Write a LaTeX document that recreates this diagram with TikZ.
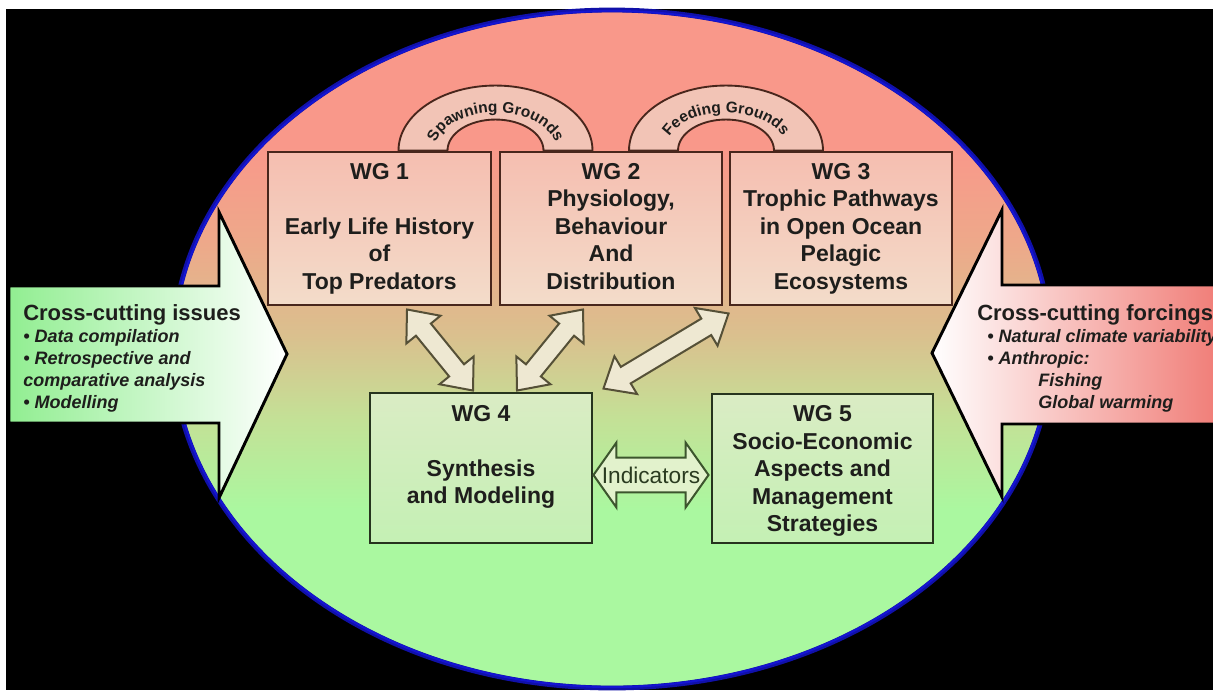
\documentclass[tikz,border=0pt]{standalone}
\usepackage{fontspec}
\setmainfont{Liberation Sans}
\usetikzlibrary{calc,decorations.text}

\definecolor{salmon}{RGB}{249,152,138}
\definecolor{salmonmid}{RGB}{238,168,138}
\definecolor{tanmid}{RGB}{218,192,142}
\definecolor{olivegreen}{RGB}{196,224,150}
\definecolor{mint}{RGB}{170,248,160}
\definecolor{rimblue}{RGB}{20,20,210}
\definecolor{browndark}{RGB}{72,38,28}
\definecolor{pinktop}{RGB}{245,190,176}
\definecolor{pinkbot}{RGB}{243,220,202}
\definecolor{greendark}{RGB}{38,52,30}
\definecolor{greentop}{RGB}{218,236,196}
\definecolor{greenbot}{RGB}{196,240,180}
\definecolor{archfill}{RGB}{242,196,182}
\definecolor{beige}{RGB}{238,232,210}
\definecolor{beigeline}{RGB}{85,80,55}
\definecolor{indfill}{RGB}{226,242,204}
\definecolor{indline}{RGB}{60,85,45}
\definecolor{leftgreen}{RGB}{145,238,145}
\definecolor{rightred}{RGB}{240,122,116}
\definecolor{inkdark}{RGB}{30,30,28}

% vertical fill of the big oval: salmon on top, tan in the middle, mint below
\pgfdeclareverticalshading{ovalfill}{100bp}{%
  color(0bp)=(mint); color(38bp)=(mint); color(45bp)=(olivegreen);
  color(51bp)=(tanmid); color(58bp)=(salmonmid); color(65bp)=(salmon);
  color(100bp)=(salmon)}

% heading font of the side arrows
\newcommand\sidehead{\fontsize{16.5pt}{16.5pt}\selectfont\bfseries\upshape}

% block double arrow between two points: style, from, to, shaft half width, head half width, head length
\newcommand\blockdbl[6]{%
  \filldraw[#1] let \p1=(#2), \p2=(#3), \n1={atan2(\y2-\y1,\x2-\x1)} in
    (\p1) -- ($(\p1)+(\n1:#6)+({\n1+90}:#5)$) -- ($(\p1)+(\n1:#6)+({\n1+90}:#4)$)
    -- ($(\p2)+(\n1:-#6)+({\n1+90}:#4)$) -- ($(\p2)+(\n1:-#6)+({\n1+90}:#5)$) -- (\p2)
    -- ($(\p2)+(\n1:-#6)+({\n1-90}:#5)$) -- ($(\p2)+(\n1:-#6)+({\n1-90}:#4)$)
    -- ($(\p1)+(\n1:#6)+({\n1-90}:#4)$) -- ($(\p1)+(\n1:#6)+({\n1-90}:#5)$) -- cycle;}

\begin{document}
\begin{tikzpicture}[x=0.75pt,y=0.75pt,
  wgupper/.style={draw=browndark, line width=2.2pt, top color=pinktop, bottom color=pinkbot,
    minimum width=166.5pt, minimum height=114.75pt, inner sep=0pt},
  wglower/.style={draw=greendark, line width=2.2pt, top color=greentop, bottom color=greenbot,
    minimum width=166.5pt, minimum height=112.5pt, inner sep=0pt},
  wgtext/.style={align=center, inner sep=0pt, text=inkdark,
    font=\fontsize{17.25pt}{20.6pt}\selectfont\bfseries},
  archring/.style={draw=browndark, line width=1.4pt, fill=archfill},
  linkarrow/.style={draw=beigeline, line width=1.5pt, fill=beige, line join=miter},
  indarrow/.style={draw=indline, line width=1.5pt, fill=indfill, line join=miter},
  bigarrow/.style={draw=black, line width=2.2pt, line join=miter},
  sidetext/.style={align=left, inner sep=0pt, text=inkdark,
    font=\fontsize{13.5pt}{16.5pt}\selectfont\bfseries\itshape}]

\useasboundingbox (0,0) rectangle (1213,-690);
\fill[white] (0,0) rectangle (1213,-690);
\fill[black] (6,-9) rectangle (1213,-690);

% the oval
\path[shading=ovalfill] (612,-349) ellipse [x radius=439, y radius=339];
\draw[rimblue!80!black, line width=3.6pt] (612,-349) ellipse [x radius=439, y radius=339];
\draw[rimblue, line width=1.6pt] (612,-349) ellipse [x radius=438, y radius=338];

% side arrows
\filldraw[bigarrow, left color=leftgreen, right color=white]
  (9,-286) -- (219,-286) -- (219,-212) -- (287,-354) -- (219,-498) -- (219,-423) -- (9,-423) -- cycle;
\filldraw[bigarrow, left color=white, right color=rightred]
  (1225,-285) -- (1002,-285) -- (1002,-210) -- (932,-353) -- (1002,-497) -- (1002,-424) -- (1225,-424) -- cycle;

\node[sidetext, anchor=north west] (issues) at (23,-304)
  {{\sidehead Cross-cutting issues}\\
   \textbullet\ Data compilation\\
   \textbullet\ Retrospective and\\
   comparative analysis\\
   \textbullet\ Modelling};
\node[sidetext, anchor=north west] (forcings) at (977,-304)
  {{\sidehead Cross-cutting forcings}\\
   \hspace*{7.5pt}\textbullet\ Natural climate variability\\
   \hspace*{7.5pt}\textbullet\ Anthropic:\\
   \hspace*{45.75pt}Fishing\\
   \hspace*{45.75pt}Global warming};

% working group boxes
\node[wgupper, minimum width=167.25pt] (wg1) at (379.5,-228.5) {};
\node[wgupper] (wg2) at (611,-228.5) {};
\node[wgupper] (wg3) at (841,-228.5) {};
\node[wglower] (wg4) at (481,-468) {};
\node[wglower, minimum width=165.75pt, minimum height=111.75pt] (wg5) at (822.5,-468.5) {};

\node[wgtext, anchor=north] (t1) at ($(wg1.north)+(0,-12.5)$)
  {WG 1\\[20.6pt]Early Life History\\of\\Top Predators};
\node[wgtext, anchor=north] (t2) at ($(wg2.north)+(0,-12.5)$)
  {WG 2\\Physiology,\\Behaviour\\And\\Distribution};
\node[wgtext, anchor=north] (t3) at ($(wg3.north)+(0,-12.5)$)
  {WG 3\\Trophic Pathways\\in Open Ocean\\Pelagic\\Ecosystems};
\node[wgtext, anchor=north] (t4) at ($(wg4.north)+(0,-13.5)$)
  {WG 4\\[20.6pt]Synthesis\\and Modeling};
\node[wgtext, anchor=north] (t5) at ($(wg5.north)+(0,-13)$)
  {WG 5\\Socio-Economic\\Aspects and\\Management\\Strategies};

% arches resting on the upper boxes
\coordinate (sg) at ($(wg1.north east)!0.5!(wg2.north west)$);
\coordinate (fg) at ($(wg2.north east)!0.5!(wg3.north west)$);
\foreach \c/\lbl in {sg/Spawning Grounds, fg/Feeding Grounds}{
  \filldraw[archring] ($(\c)+(-97,0)$) arc[start angle=180, end angle=0, x radius=97, y radius=65]
    -- ($(\c)+(48,0)$) arc[start angle=0, end angle=180, x radius=48, y radius=31] -- cycle;
  \path[decorate, decoration={text along path, text align=center,
      text={|\fontsize{11.6pt}{13pt}\selectfont\bfseries\color{inkdark}|\lbl}}]
    ($(\c)+(-61,0)$) arc[start angle=180, end angle=0, x radius=61, y radius=38];
}

% links between the upper groups and WG 4
\coordinate (a1) at ($(wg1.south)+(27.5,-3)$);
\coordinate (a2) at ($(wg4.north)+(-8,1)$);
\coordinate (b1) at ($(wg2.south)+(-28,-3)$);
\coordinate (b2) at ($(wg4.north)+(36,1)$);
\coordinate (c1) at ($(wg3.south west)+(0,-7)$);
\coordinate (c2) at ($(wg4.north east)+(10,3)$);
\blockdbl{linkarrow}{a1}{a2}{7.2pt}{16.5pt}{19.5pt}
\blockdbl{linkarrow}{b1}{b2}{7.2pt}{16.5pt}{19.5pt}
\blockdbl{linkarrow}{c1}{c2}{7.2pt}{16.5pt}{19.5pt}

% indicators link between WG 4 and WG 5
\coordinate (i1) at ($(wg4.east)+(0,-7)$);
\coordinate (i2) at ($(wg5.west)+(-2,-6.5)$);
\blockdbl{indarrow}{i1}{i2}{13.1pt}{24.4pt}{17.25pt}
\node[inner sep=0pt, text=indline!70!black, font=\fontsize{17pt}{18pt}\selectfont]
  (ind) at ($(i1)!0.5!(i2)$) {Indicators};

\end{tikzpicture}
\end{document}
